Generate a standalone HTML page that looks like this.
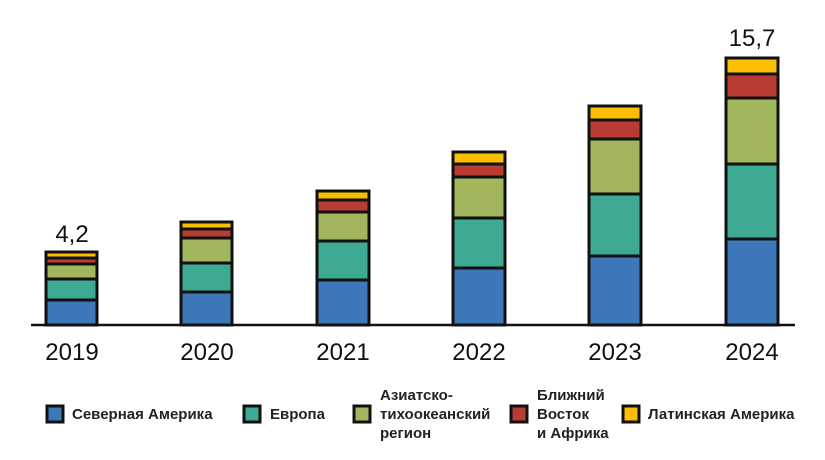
<!DOCTYPE html>
<html><head><meta charset="utf-8"><style>
body{margin:0;background:#fff}
svg{display:block}
.y{font-family:"Liberation Sans",sans-serif;font-size:24px;fill:#111}
.l{font-family:"Liberation Sans",sans-serif;font-size:15px;font-weight:bold;fill:#222}
</style></head><body>
<svg width="825" height="460" xmlns="http://www.w3.org/2000/svg">
<g stroke="#111" stroke-width="3">
<rect x="46" y="300" width="51" height="25" fill="#3c78b9"/>
<rect x="46" y="279" width="51" height="21" fill="#3eaa93"/>
<rect x="46" y="264" width="51" height="15" fill="#a2b65e"/>
<rect x="46" y="258" width="51" height="6" fill="#b83c32"/>
<rect x="46" y="252" width="51" height="6" fill="#fbbf00"/>
<rect x="181" y="292" width="51" height="33" fill="#3c78b9"/>
<rect x="181" y="263" width="51" height="29" fill="#3eaa93"/>
<rect x="181" y="238" width="51" height="25" fill="#a2b65e"/>
<rect x="181" y="229" width="51" height="9" fill="#b83c32"/>
<rect x="181" y="222" width="51" height="7" fill="#fbbf00"/>
<rect x="317" y="280" width="52" height="45" fill="#3c78b9"/>
<rect x="317" y="241" width="52" height="39" fill="#3eaa93"/>
<rect x="317" y="212" width="52" height="29" fill="#a2b65e"/>
<rect x="317" y="200" width="52" height="12" fill="#b83c32"/>
<rect x="317" y="191" width="52" height="9" fill="#fbbf00"/>
<rect x="453" y="268" width="52" height="57" fill="#3c78b9"/>
<rect x="453" y="218" width="52" height="50" fill="#3eaa93"/>
<rect x="453" y="177" width="52" height="41" fill="#a2b65e"/>
<rect x="453" y="164" width="52" height="13" fill="#b83c32"/>
<rect x="453" y="152" width="52" height="12" fill="#fbbf00"/>
<rect x="589" y="256" width="52" height="69" fill="#3c78b9"/>
<rect x="589" y="194" width="52" height="62" fill="#3eaa93"/>
<rect x="589" y="139" width="52" height="55" fill="#a2b65e"/>
<rect x="589" y="120" width="52" height="19" fill="#b83c32"/>
<rect x="589" y="106" width="52" height="14" fill="#fbbf00"/>
<rect x="726" y="239" width="52" height="86" fill="#3c78b9"/>
<rect x="726" y="164" width="52" height="75" fill="#3eaa93"/>
<rect x="726" y="98" width="52" height="66" fill="#a2b65e"/>
<rect x="726" y="74" width="52" height="24" fill="#b83c32"/>
<rect x="726" y="58" width="52" height="16" fill="#fbbf00"/>
</g>
<line x1="31" y1="325" x2="795" y2="325" stroke="#111" stroke-width="2.5"/>
<text class="y" x="72" y="242" text-anchor="middle">4,2</text>
<text class="y" x="752" y="46" text-anchor="middle">15,7</text>
<g class="y" text-anchor="middle">
<text x="72" y="360">2019</text><text x="207" y="360">2020</text><text x="343" y="360">2021</text>
<text x="479" y="360">2022</text><text x="615" y="360">2023</text><text x="752" y="360">2024</text>
</g>
<g stroke="#111" stroke-width="3">
<rect x="47" y="406" width="16" height="16" fill="#3c78b9"/>
<rect x="244" y="406" width="16" height="16" fill="#3eaa93"/>
<rect x="354" y="406" width="16" height="16" fill="#a2b65e"/>
<rect x="511" y="406" width="16" height="16" fill="#b83c32"/>
<rect x="623" y="406" width="16" height="16" fill="#fbbf00"/>
</g>
<g class="l">
<text x="72" y="419">Северная Америка</text>
<text x="270" y="419">Европа</text>
<text x="380" y="400">Азиатско-</text>
<text x="380" y="419">тихоокеанский</text>
<text x="380" y="438">регион</text>
<text x="537" y="400">Ближний</text>
<text x="537" y="419">Восток</text>
<text x="537" y="438">и Африка</text>
<text x="648" y="419">Латинская Америка</text>
</g>
</svg>
</body></html>
